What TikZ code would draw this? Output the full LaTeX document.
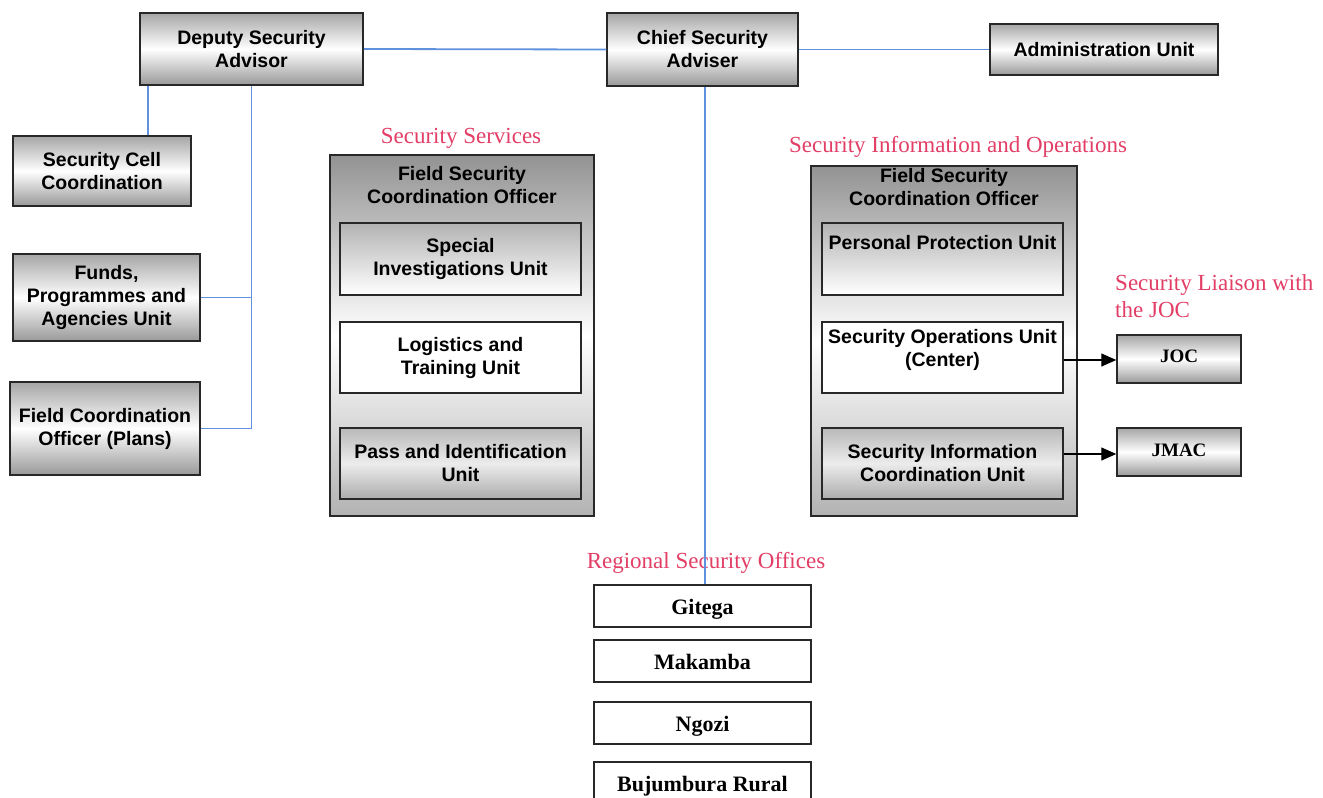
\documentclass[tikz,border=0pt]{standalone}
\usepackage{fontspec}
\setmainfont{Liberation Serif}
\setsansfont{Liberation Sans}
\usetikzlibrary{arrows.meta}
\definecolor{linkblue}{RGB}{95,145,220}
\definecolor{headred}{RGB}{226,62,102}
\definecolor{edge}{RGB}{40,40,40}
\tikzset{
  shiny/.style={draw=edge, line width=1.5pt, inner sep=0pt, align=center,
    top color=gray!70, bottom color=gray!80, middle color=white,
    font=\sffamily\bfseries\fontsize{19.5}{23}\selectfont},
  plainunit/.style={draw=edge, line width=1.5pt, inner sep=0pt, align=center, fill=white,
    font=\sffamily\bfseries\fontsize{19.5}{23}\selectfont},
  fadeunit/.style={plainunit, top color=gray!60, bottom color=white},
  greyunit/.style={plainunit, top color=gray!55, bottom color=gray!65, middle color=gray!15},
  group/.style={draw=edge, line width=1.5pt, inner sep=0pt,
    top color=gray!85, bottom color=gray!60, middle color=white},
  grouptitle/.style={align=center, inner sep=0pt, font=\sffamily\bfseries\fontsize{19.5}{23}\selectfont},
  region/.style={draw=edge, line width=1.5pt, inner sep=0pt, fill=white,
    text height=17, text depth=0,
    minimum width=217, minimum height=42, font=\bfseries\fontsize{22}{24}\selectfont},
  liaison/.style={draw=edge, line width=1.5pt, inner sep=0pt,
    top color=gray!70, bottom color=gray!80, middle color=white,
    text height=13, text depth=4,
    minimum width=124, minimum height=48, font=\bfseries\fontsize{19}{22}\selectfont},
  caption/.style={text=headred, inner sep=0pt, font=\fontsize{23}{27}\selectfont},
  link/.style={draw=linkblue, line width=1.8pt},
  arr/.style={draw=black, line width=1.4pt, -{Triangle[length=15,width=13]}}
}
\begin{document}
\begin{tikzpicture}[x=1pt, y=-1pt]
\useasboundingbox (0,0) rectangle (1323,798);
\clip (0,0) rectangle (1323,798);
\fill[white] (0,0) rectangle (1323,798);

% top row
\node[shiny, minimum width=223, minimum height=72] (dep) at (251.5,49) {Deputy Security\\Advisor};
\node[shiny, minimum width=191, minimum height=73] (chief) at (702.5,49.5) {Chief Security\\Adviser};
\node[shiny, minimum width=228, minimum height=51] (admin) at (1104,49.5) {Administration Unit};

% units under the deputy
\node[shiny, minimum width=178, minimum height=70] (cell) at (102,171) {Security Cell\\Coordination};
\node[shiny, minimum width=187, minimum height=87] (funds) at (106.5,297.5) {Funds,\\Programmes and\\Agencies Unit};
\node[shiny, minimum width=190, minimum height=93] (plans) at (105,428.5) {Field Coordination\\Officer (Plans)};

% security services group
\node[caption] (svc) at (461,138) {Security Services};
\node[group, minimum width=264, minimum height=361] (lgrp) at (462,335.5) {};
\node[grouptitle] (ltitle) at (462,185) {Field Security\\Coordination Officer};
\node[fadeunit, minimum width=241, minimum height=72] (siu) at (460.5,259) {Special\\Investigations Unit};
\node[plainunit, minimum width=241, minimum height=71] (ltu) at (460.5,357.5) {Logistics and\\Training Unit};
\node[greyunit, minimum width=241, minimum height=71] (piu) at (460.5,463.5) {Pass and Identification\\Unit};

% security information and operations group
\node[caption] (sio) at (958,147) {Security Information and Operations};
\node[group, minimum width=266, minimum height=350] (rgrp) at (944,341) {};
\node[grouptitle] (rtitle) at (944,187) {Field Security\\Coordination Officer};
\node[fadeunit, minimum width=241, minimum height=72] (ppu) at (942.5,259) {};
\node[grouptitle] (ppulabel) at (942.5,243) {Personal Protection Unit};
\node[plainunit, minimum width=241, minimum height=71] (sou) at (942.5,357.5) {Security Operations Unit\\(Center)\\[-4pt]\mbox{}};
\node[greyunit, minimum width=241, minimum height=71] (sicu) at (942.5,463.5) {Security Information\\Coordination Unit};

% liaison
\node[caption, align=left, anchor=north west] (liais) at (1115,274) {Security Liaison with\\the JOC};
\node[liaison, text depth=7] (joc) at (1179,359) {JOC};
\node[liaison] (jmac) at (1179,452) {JMAC};
\draw[arr] (sou.east |- 0,360) -- (joc.west |- 0,360);
\draw[arr] (sicu.east |- 0,454) -- (jmac.west |- 0,454);

% regional offices
\node[caption] (reg) at (706,563) {Regional Security Offices};
\node[region] (gitega) at (702.5,606) {Gitega};
\node[region] (makamba) at (702.5,661) {Makamba};
\node[region] (ngozi) at (702.5,723) {Ngozi};
\node[region] (buj) at (702.5,783) {Bujumbura Rural};

% reporting lines
\draw[link] (dep.east) -- (chief.west);
\draw[link] (chief.east) -- (admin.west);
\draw[link] ([xshift=9]dep.south west) -- ([xshift=9]dep.south west |- cell.north);
\draw[link] (dep.south) -- (dep.south |- plans.east) -- (plans.east);
\draw[link] (funds.east) -- (funds.east -| dep.south);
\draw[link] ([xshift=2.5]chief.south) -- ([xshift=2.5]chief.south |- gitega.north);
\end{tikzpicture}
\end{document}
